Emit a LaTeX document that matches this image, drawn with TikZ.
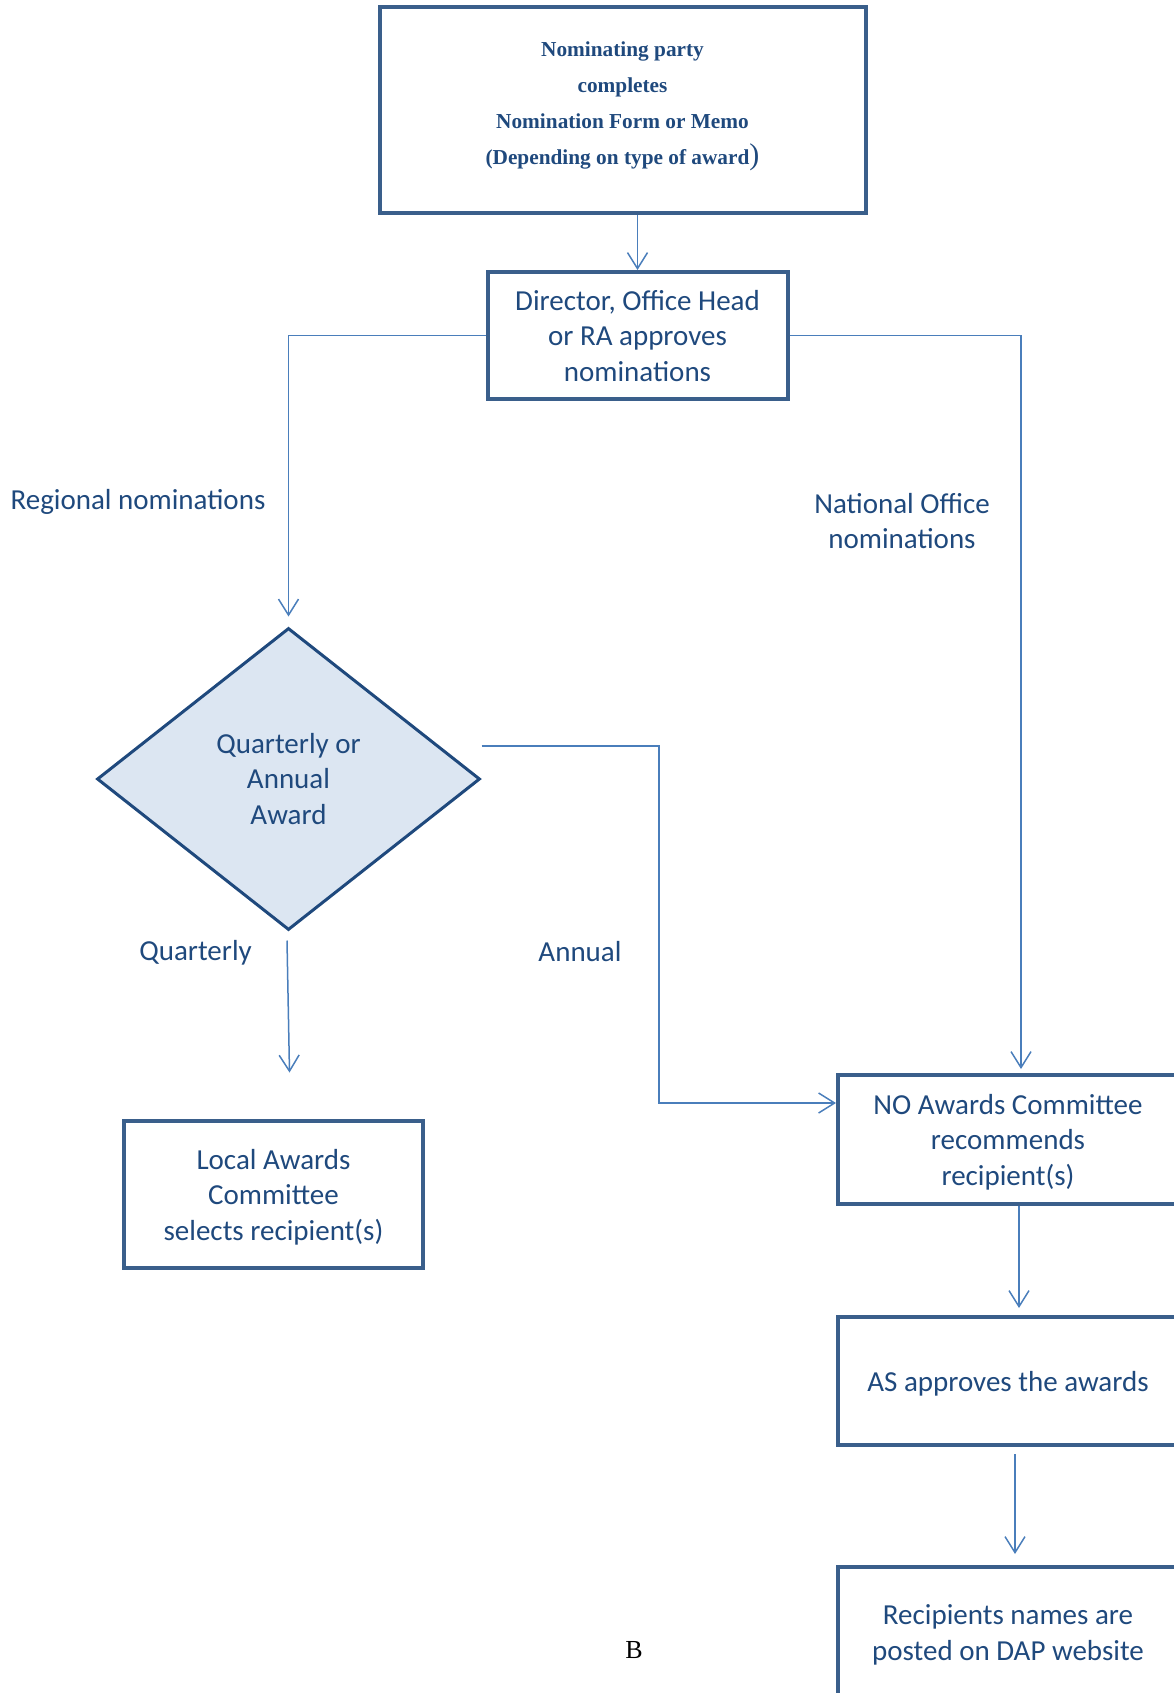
\documentclass[tikz,border=0pt]{standalone}
\usepackage{fontspec}
\setmainfont{Carlito}
\newfontfamily\timesfont{Liberation Serif}
\usetikzlibrary{shapes.geometric,arrows.meta}
\definecolor{navy}{HTML}{1F497D}
\definecolor{boxblue}{HTML}{3A5F8B}
\definecolor{lineblue}{HTML}{4A7EBB}
\definecolor{fillblue}{HTML}{DCE6F2}
\begin{document}
\begin{tikzpicture}[x=1pt, y=-1pt,
                    box/.style = {draw=boxblue, line width=4pt, align=center, text=navy, inner sep=0pt, text depth=0pt,
                                  font=\fontsize{29}{35.5}\selectfont},
                    txt/.style = {text=navy, align=center, inner sep=0pt, font=\fontsize{29}{35.5}\selectfont},
                    link/.style = {draw=lineblue, line width=1.5pt, -{Straight Barb[length=16pt,width=20pt]}}]
                        \useasboundingbox (0,0) rectangle (1173,1693);
                        \node[box, minimum width=486, minimum height=206, text depth=15pt,
                              font=\timesfont\bfseries\fontsize{21.3}{36}\selectfont] (nom) at (622.5,110.5)
                              {Nominating party\\completes\\Nomination Form or Memo\\(Depending on type of award{\mdseries\fontsize{30}{30}\selectfont)}};
                        \node[box, minimum width=300, minimum height=127] (dir) at (637.5,335.5) {Director, Office Head\\or RA approves\\nominations};
                        \node[diamond, draw=navy, fill=fillblue, line width=3pt, minimum width=383, minimum height=302, txt] (q) at (288.5,779) {Quarterly or\\Annual\\Award};
                        \node[box, minimum width=299, minimum height=147] (local) at (273.5,1194.5) {Local Awards\\Committee\\selects recipient(s)};
                        \node[box, minimum width=340, minimum height=129] (no) at (1008,1139.5) {NO Awards Committee\\recommends\\recipient(s)};
                        \node[box, minimum width=340, minimum height=128] (as) at (1008,1381) {AS approves the awards};
                        \node[box, minimum width=340, minimum height=131] (rec) at (1008,1632.5) {Recipients names are\\posted on DAP website};

                        \node[txt] (reg) at (138,502) {Regional nominations};
                        \node[txt] (nat) at (902,521) {National Office\\nominations};
                        \node[txt] (qtr) at (195.5,952.5) {Quarterly};
                        \node[txt] (ann) at (580,951.5) {Annual};
                        \node[font=\timesfont\fontsize{26}{26}\selectfont, inner sep=0pt] (pg) at (634,1650) {B};

                        \coordinate (bend) at (659,900);
                        \coordinate (qend) at (289.5,1072.5);

                        \draw[link] (dir.north |- nom.south) -- (dir.north);
                        \draw[link, shorten >=10pt] (dir.west) -| (q.north);
                        \draw[link, shorten >=4pt] (dir.east) -| ([xshift=13pt]no.north);
                        \draw[link] ([yshift=33pt]q.east) -| (bend) |- ([yshift=36.5pt]no.west);
                        \draw[link] ([shift={(-1.5pt,-9pt)}]q.south) -- (qend);
                        \draw[link, shorten >=7pt] ([xshift=11pt]no.south) -- ([xshift=11pt]as.north);
                        \draw[link, shorten <=7pt, shorten >=11pt] ([xshift=7pt]as.south) -- ([xshift=7pt]rec.north);
                    \end{tikzpicture}
\end{document}
